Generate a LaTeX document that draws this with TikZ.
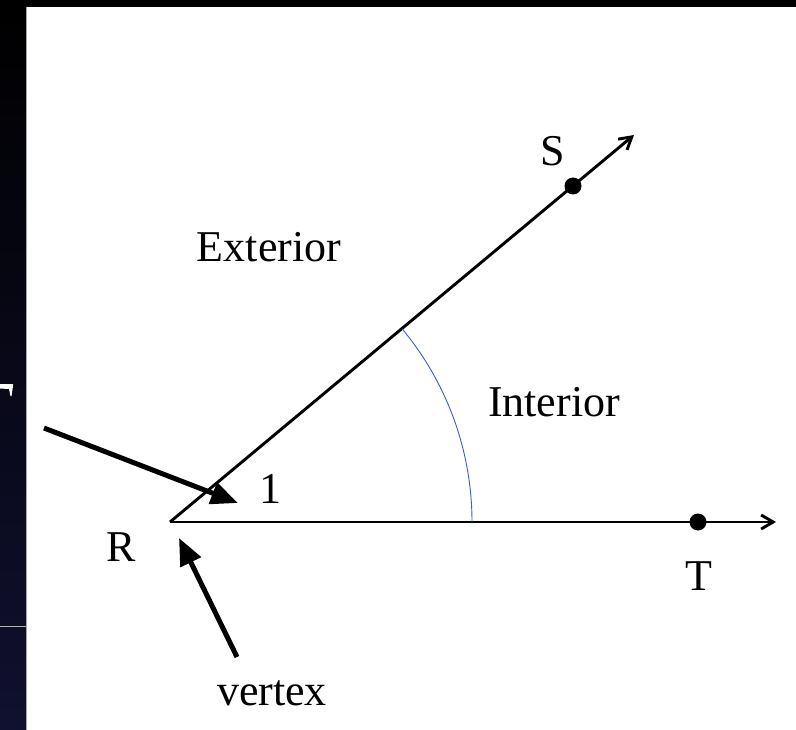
\documentclass[tikz,border=0pt]{standalone}
\usepackage{fontspec}
\setmainfont{Liberation Serif}
\usetikzlibrary{arrows.meta,calc}
\definecolor{navy}{RGB}{16,16,48}
\definecolor{arcblue}{RGB}{64,96,190}
\begin{document}
\begin{tikzpicture}[x=1pt,y=-1pt,
  lbl/.style={font=\fontsize{44}{50}\selectfont, inner sep=0pt, anchor=base},
  ray/.style={line width=2.9pt, -{Straight Barb[length=12pt,width=14pt]}},
  pointer/.style={line width=5pt, -{Triangle[length=27pt,width=22pt]}},
  dotmark/.style={circle, fill=black, inner sep=0pt, minimum size=17pt}]
\useasboundingbox (0,0) rectangle (796,730);
% background
\fill[black] (0,0) rectangle (796,7);
\shade[top color=black, bottom color=navy] (0,0) rectangle (26,730);
\fill[white] (26,7) rectangle (796,730);
\draw[gray!70, line width=1pt] (26.5,7) -- (26.5,730);
\draw[gray!60, line width=0.8pt] (0,626) -- (26,626);
% fragment of a cut-off glyph at the left edge
\fill[white] (0,384) -- (13,384) -- (13,386) -- (11.5,396) -- (10.5,396) -- (9,389) -- (0,388.5) -- cycle;
% geometry
\coordinate (R) at (170,522);
\coordinate (Send) at (634,135);
\coordinate (Tend) at (776,522);
\node[dotmark] (S) at (573,186) {};
\node[dotmark] (T) at (698,522) {};
\draw[ray] (R) -- (Send);
\draw[ray] (R) -- (Tend);
\draw[arcblue, line width=0.9pt] ($(R)+(302,0)$) arc[start angle=0, end angle=-39.83, radius=302];
% pointers
\coordinate (p1s) at (44,428);
\coordinate (p1e) at (238,503);
\coordinate (p2s) at (237,657);
\coordinate (p2e) at (179,538);
\draw[pointer] (p1s) -- (p1e);
\draw[pointer] (p2s) -- (p2e);
% labels
\node[lbl] (lS) at (553,166) {S};
\node[lbl] (lT) at (699,590) {T};
\node[lbl] (lR) at (121,561) {R};
\node[lbl] (ext) at (269,262) {Exterior};
\node[lbl] (int) at (554,417) {Interior};
\node[lbl] (one) at (270,503) {1};
\node[lbl] (vtx) at (272,705) {vertex};
\end{tikzpicture}
\end{document}
